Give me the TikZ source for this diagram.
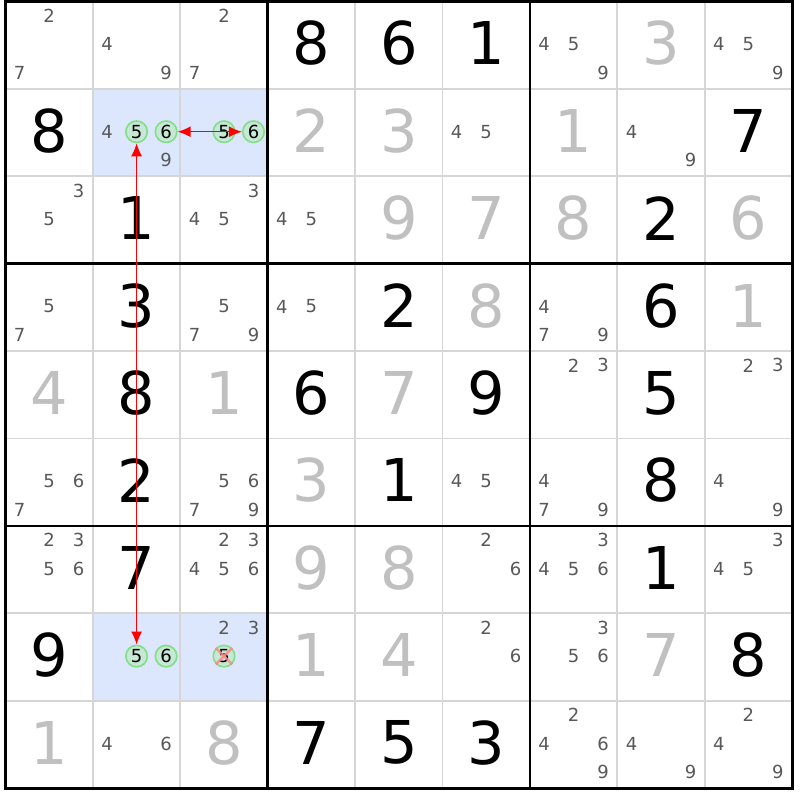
\documentclass[tikz,border=0pt]{standalone}
\usepackage{fontspec}
\setmainfont{DejaVu Sans}
\usepackage{tikz}
\usetikzlibrary{calc}
\usetikzlibrary{arrows.meta}
\usetikzlibrary{positioning}
\definecolor{solvedgray}{RGB}{192,192,192}
\definecolor{candgray}{RGB}{88,88,88}
\definecolor{gridgray}{RGB}{214,214,214}
\definecolor{hilite}{RGB}{220,230,252}
\definecolor{pickline}{RGB}{132,222,132}
\definecolor{pickfill}{RGB}{198,232,214}
\definecolor{strikered}{RGB}{255,135,135}
\tikzset{>=latex}
\tikzset{
  given/.style = {inner sep=0, font=\fontsize{59}{59}\selectfont, text=black},
  solved/.style = {given, text=solvedgray},
  cand/.style = {inner sep=0, font=\fontsize{18}{18}\selectfont, text=candgray},
  pick/.style = {cand, text=black, circle, draw=pickline, fill=pickfill, line width=1.6pt, minimum size=21.5pt},
  thingrid/.style = {draw=gridgray, line width=1.8pt},
  boxgrid/.style = {draw=black, line width=2.8pt, line cap=rect},
  link/.style = {{Latex[length=13pt,width=11pt]}-{Latex[length=13pt,width=11pt]}, draw=red, line width=1.4pt},
  strike/.style = {draw=strikered, line width=2.6pt, opacity=0.85}
}

\begin{document}
\begin{tikzpicture}[x=87.4pt, y=-87.4pt]
\useasboundingbox (-5.5pt,1.5pt) rectangle (794.5pt,-798.5pt);
\fill [white] (-5.5pt,1.5pt) rectangle (794.5pt,-798.5pt);
% highlighted cells
\fill [hilite] (1,1) rectangle (3,2);
\fill [hilite] (1,7) rectangle (3,8);
% grid
\foreach \i in {1,2,4,5,7,8} {
  \draw [thingrid] (\i,0) -- (\i,9);
  \draw [thingrid] (0,\i) -- (9,\i);
}
\foreach \i in {0,3,6,9} {
  \draw [boxgrid] (\i,0) -- (\i,9);
  \draw [boxgrid] (0,\i) -- (9,\i);
}
% given digits
\foreach \r/\c/\d in {1/4/8, 1/5/6, 1/6/1, 2/1/8, 2/9/7, 3/2/1, 3/8/2,
    4/2/3, 4/5/2, 4/8/6, 5/2/8, 5/4/6, 5/6/9, 5/8/5, 6/2/2, 6/5/1, 6/8/8,
    7/2/7, 7/8/1, 8/1/9, 8/9/8, 9/4/7, 9/5/5, 9/6/3}
  \node [given] (v\r\c) at (\c-0.5,\r-0.52) {\d};
% solved digits
\foreach \r/\c/\d in {1/8/3, 2/4/2, 2/5/3, 2/7/1, 3/5/9, 3/6/7, 3/7/8, 3/9/6,
    4/6/8, 4/9/1, 5/1/4, 5/3/1, 5/5/7, 6/4/3, 7/4/9, 7/5/8, 8/4/1, 8/5/4,
    8/8/7, 9/1/1, 9/3/8}
  \node [solved] (v\r\c) at (\c-0.5,\r-0.52) {\d};
% candidates
\foreach \r/\c/\ds in {1/1/{2,7}, 1/2/{4,9}, 1/3/{2,7}, 1/7/{4,5,9}, 1/9/{4,5,9},
    2/2/{4,9}, 2/6/{4,5}, 2/8/{4,9},
    3/1/{3,5}, 3/3/{3,4,5}, 3/4/{4,5},
    4/1/{5,7}, 4/3/{5,7,9}, 4/4/{4,5}, 4/7/{4,7,9},
    5/7/{2,3}, 5/9/{2,3},
    6/1/{5,6,7}, 6/3/{5,6,7,9}, 6/6/{4,5}, 6/7/{4,7,9}, 6/9/{4,9},
    7/1/{2,3,5,6}, 7/3/{2,3,4,5,6}, 7/6/{2,6}, 7/7/{3,4,5,6}, 7/9/{3,4,5},
    8/3/{2,3}, 8/6/{2,6}, 8/7/{3,5,6},
    9/2/{4,6}, 9/7/{2,4,6,9}, 9/8/{4,9}, 9/9/{2,4,9}}
  \foreach \d in \ds {
    \pgfmathsetmacro\cx{\c-0.5+(mod(\d-1,3)-1)*0.3375}
    \pgfmathsetmacro\cy{\r-0.51+(div(\d-1,3)-1)*0.326}
    \node [cand] (c\r\c\d) at (\cx,\cy) {\d};
  }
% circled candidates
\foreach \r/\c/\d in {2/2/5, 2/2/6, 2/3/5, 2/3/6, 8/2/5, 8/2/6, 8/3/5} {
  \pgfmathsetmacro\cx{\c-0.5+(mod(\d-1,3)-1)*0.3375}
  \pgfmathsetmacro\cy{\r-0.51+(div(\d-1,3)-1)*0.326}
  \node [pick] (c\r\c\d) at (\cx,\cy) {\d};
}
\draw [strike] (c835.north west) -- (c835.south east);
\draw [strike] (c835.north east) -- (c835.south west);
% links
\draw [link] (c225) -- (c825);
\draw [link] (c226) -- (c236);
\end{tikzpicture}
\end{document}
